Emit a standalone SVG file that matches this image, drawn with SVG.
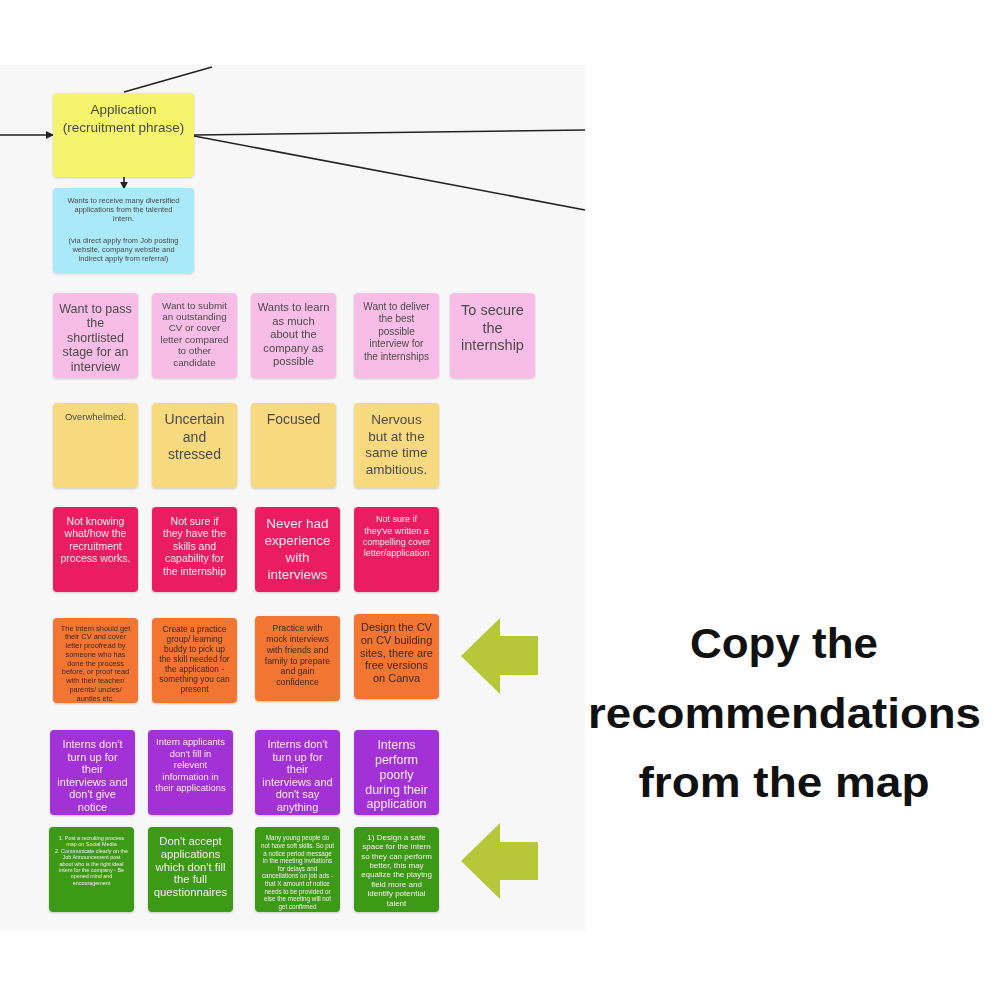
<svg xmlns="http://www.w3.org/2000/svg" width="1000" height="1000" viewBox="0 0 1000 1000">
<defs>
<marker id="ah" viewBox="0 0 10 10" refX="9" refY="5" markerWidth="8" markerHeight="8" orient="auto" markerUnits="userSpaceOnUse">
<path d="M0,0 L10,5 L0,10 z" fill="#222"/>
</marker>
<filter id="sh" x="-10%" y="-10%" width="120%" height="125%">
<feDropShadow dx="0" dy="1" stdDeviation="1" flood-color="#000" flood-opacity="0.18"/>
</filter>
<style>
.n{filter:url(#sh)}
.app{fill:#f6f36c}.blue{fill:#a9e9f9}.pink{fill:#f8bde7}.yel{fill:#f7da80}.red{fill:#ea1d62}.org{fill:#f37433}.pur{fill:#a331d6}.grn{fill:#3e9a17}
text{font-family:"Liberation Sans",Arial,sans-serif;text-anchor:middle}
.d{fill:#4a4a4a}.w{fill:#f6ecf0}
.conn line{stroke:#222;stroke-width:1.6}
.big{font-family:"Liberation Sans",Arial,sans-serif;font-weight:bold;font-size:43px;fill:#111}
</style>
</defs>
<rect width="1000" height="1000" fill="#ffffff"/>
<rect x="0" y="65" width="585" height="866" fill="#f7f7f7"/>

<g class="conn">
<line x1="0" y1="135" x2="53" y2="135" marker-end="url(#ah)"/>
<line x1="124" y1="92" x2="212" y2="67"/>
<line x1="194" y1="135" x2="585" y2="130"/>
<line x1="194" y1="136" x2="585" y2="210"/>
<line x1="124" y1="177" x2="124" y2="189" marker-end="url(#ah)"/>
</g>

<g id="application" class="n"><rect class="app" x="53" y="93" width="141" height="84" rx="4"/>
<text class="d" font-size="13.5"><tspan x="123.5" y="113.5">Application</tspan><tspan x="123.5" y="132">(recruitment phrase)</tspan></text></g>

<g id="goal" class="n"><rect class="blue" x="53" y="188" width="141" height="85" rx="4"/>
<text class="d" font-size="7.5"><tspan x="123.5" y="202.6">Wants to receive many diversified</tspan><tspan x="123.5" y="211.6">applications from the talented</tspan><tspan x="123.5" y="220.6">Intern.</tspan><tspan x="123.5" y="242.6">(via direct apply from Job posting</tspan><tspan x="123.5" y="251.6">website, company website and</tspan><tspan x="123.5" y="260.6">indirect apply from referral)</tspan></text></g>

<g id="pink1" class="n"><rect class="pink" x="53" y="293" width="85" height="85" rx="4"/>
<text class="d" font-size="12.5"><tspan x="95.5" y="312.5">Want to pass</tspan><tspan x="95.5" y="327">the</tspan><tspan x="95.5" y="341.5">shortlisted</tspan><tspan x="95.5" y="356">stage for an</tspan><tspan x="95.5" y="370.5">interview</tspan></text></g>
<g id="pink2" class="n"><rect class="pink" x="152" y="293" width="85" height="85" rx="4"/>
<text class="d" font-size="9.8"><tspan x="194.5" y="308.5">Want to submit</tspan><tspan x="194.5" y="320">an outstanding</tspan><tspan x="194.5" y="331.3">CV or cover</tspan><tspan x="194.5" y="342.7">letter compared</tspan><tspan x="194.5" y="354">to other</tspan><tspan x="194.5" y="365.5">candidate</tspan></text></g>
<g id="pink3" class="n"><rect class="pink" x="251" y="293" width="85" height="85" rx="4"/>
<text class="d" font-size="11.2"><tspan x="293.5" y="311">Wants to learn</tspan><tspan x="293.5" y="324.5">as much</tspan><tspan x="293.5" y="338">about the</tspan><tspan x="293.5" y="351.5">company as</tspan><tspan x="293.5" y="365">possible</tspan></text></g>
<g id="pink4" class="n"><rect class="pink" x="354" y="293" width="85" height="85" rx="4"/>
<text class="d" font-size="10"><tspan x="396.5" y="309.7">Want to deliver</tspan><tspan x="396.5" y="322.2">the best</tspan><tspan x="396.5" y="334.7">possible</tspan><tspan x="396.5" y="347.2">interview for</tspan><tspan x="396.5" y="359.7">the internships</tspan></text></g>
<g id="pink5" class="n"><rect class="pink" x="450" y="293" width="85" height="85" rx="4"/>
<text class="d" font-size="14.5"><tspan x="492.5" y="315">To secure</tspan><tspan x="492.5" y="332.5">the</tspan><tspan x="492.5" y="350">internship</tspan></text></g>

<g id="feel1" class="n"><rect class="yel" x="53" y="403" width="85" height="85" rx="4"/>
<text class="d" font-size="9.5"><tspan x="95.5" y="420.3">Overwhelmed.</tspan></text></g>
<g id="feel2" class="n"><rect class="yel" x="152" y="403" width="85" height="85" rx="4"/>
<text class="d" font-size="14"><tspan x="194.5" y="424">Uncertain</tspan><tspan x="194.5" y="442">and</tspan><tspan x="194.5" y="459">stressed</tspan></text></g>
<g id="feel3" class="n"><rect class="yel" x="251" y="403" width="85" height="85" rx="4"/>
<text class="d" font-size="14"><tspan x="293.5" y="424">Focused</tspan></text></g>
<g id="feel4" class="n"><rect class="yel" x="354" y="403" width="85" height="85" rx="4"/>
<text class="d" font-size="13.5"><tspan x="396.5" y="423.7">Nervous</tspan><tspan x="396.5" y="440.7">but at the</tspan><tspan x="396.5" y="456.7">same time</tspan><tspan x="396.5" y="473.7">ambitious.</tspan></text></g>

<g id="pain1" class="n"><rect class="red" x="53" y="507" width="85" height="85" rx="4"/>
<text class="w" font-size="10.5"><tspan x="95.5" y="524.7">Not knowing</tspan><tspan x="95.5" y="537.2">what/how the</tspan><tspan x="95.5" y="549.7">recruitment</tspan><tspan x="95.5" y="562.2">process works.</tspan></text></g>
<g id="pain2" class="n"><rect class="red" x="152" y="507" width="85" height="85" rx="4"/>
<text class="w" font-size="10.5"><tspan x="194.5" y="524.7">Not sure if</tspan><tspan x="194.5" y="537.2">they have the</tspan><tspan x="194.5" y="549.7">skills and</tspan><tspan x="194.5" y="562.2">capability for</tspan><tspan x="194.5" y="574.7">the internship</tspan></text></g>
<g id="pain3" class="n"><rect class="red" x="255" y="507" width="85" height="85" rx="4"/>
<text class="w" font-size="13.5"><tspan x="297.5" y="527.7">Never had</tspan><tspan x="297.5" y="544.7">experience</tspan><tspan x="297.5" y="561.7">with</tspan><tspan x="297.5" y="578.7">interviews</tspan></text></g>
<g id="pain4" class="n"><rect class="red" x="354" y="507" width="85" height="85" rx="4"/>
<text class="w" font-size="9"><tspan x="396.5" y="522.2">Not sure if</tspan><tspan x="396.5" y="533.5">they've written a</tspan><tspan x="396.5" y="544.8">compelling cover</tspan><tspan x="396.5" y="556.1">letter/application</tspan></text></g>

<g id="idea1" class="n"><rect class="org" x="53" y="618" width="85" height="85" rx="4"/>
<text class="d" font-size="7.4" style="fill:#3a2a20"><tspan x="95.5" y="630.6">The intern should get</tspan><tspan x="95.5" y="639.4">their CV and cover</tspan><tspan x="95.5" y="648.1">letter proofread by</tspan><tspan x="95.5" y="656.9">someone who has</tspan><tspan x="95.5" y="665.6">done the process</tspan><tspan x="95.5" y="674.4">before, or proof read</tspan><tspan x="95.5" y="683.1">with their teacher/</tspan><tspan x="95.5" y="691.9">parents/ uncles/</tspan><tspan x="95.5" y="700.6">aunties etc.</tspan></text></g>
<g id="idea2" class="n"><rect class="org" x="152" y="618" width="85" height="85" rx="4"/>
<text class="d" font-size="8.4" style="fill:#3a2a20"><tspan x="194.5" y="632">Create a practice</tspan><tspan x="194.5" y="642">group/ learning</tspan><tspan x="194.5" y="652">buddy to pick up</tspan><tspan x="194.5" y="662">the skill needed for</tspan><tspan x="194.5" y="672">the application -</tspan><tspan x="194.5" y="682">something you can</tspan><tspan x="194.5" y="692">present</tspan></text></g>
<g id="idea3" class="n"><rect class="org" x="255" y="616" width="85" height="85" rx="4"/>
<text class="d" font-size="8.8" style="fill:#3a2a20"><tspan x="297.5" y="631.2">Practice with</tspan><tspan x="297.5" y="642">mock interviews</tspan><tspan x="297.5" y="652.8">with friends and</tspan><tspan x="297.5" y="663.6">family to prepare</tspan><tspan x="297.5" y="674.4">and gain</tspan><tspan x="297.5" y="685.2">confidence</tspan></text></g>
<g id="idea4" class="n"><rect class="org" x="354" y="614" width="85" height="85" rx="4"/>
<text class="d" font-size="11" style="fill:#3a2a20"><tspan x="396.5" y="630.9">Design the CV</tspan><tspan x="396.5" y="643.7">on CV building</tspan><tspan x="396.5" y="656.5">sites, there are</tspan><tspan x="396.5" y="669.3">free versions</tspan><tspan x="396.5" y="682.1">on Canva</tspan></text></g>

<g id="issue1" class="n"><rect class="pur" x="50" y="730" width="85" height="85" rx="4"/>
<text class="w" font-size="11"><tspan x="92.5" y="747.9">Interns don't</tspan><tspan x="92.5" y="760.5">turn up for</tspan><tspan x="92.5" y="773.1">their</tspan><tspan x="92.5" y="785.7">interviews and</tspan><tspan x="92.5" y="798.3">don't give</tspan><tspan x="92.5" y="810.9">notice</tspan></text></g>
<g id="issue2" class="n"><rect class="pur" x="148" y="730" width="85" height="85" rx="4"/>
<text class="w" font-size="9.4"><tspan x="190.5" y="745.3">Intern applicants</tspan><tspan x="190.5" y="756.8">don't fill in</tspan><tspan x="190.5" y="768.3">relevent</tspan><tspan x="190.5" y="779.8">information in</tspan><tspan x="190.5" y="791.3">their applications</tspan></text></g>
<g id="issue3" class="n"><rect class="pur" x="255" y="730" width="85" height="85" rx="4"/>
<text class="w" font-size="11"><tspan x="297.5" y="747.9">Interns don't</tspan><tspan x="297.5" y="760.5">turn up for</tspan><tspan x="297.5" y="773.1">their</tspan><tspan x="297.5" y="785.7">interviews and</tspan><tspan x="297.5" y="798.3">don't say</tspan><tspan x="297.5" y="810.9">anything</tspan></text></g>
<g id="issue4" class="n"><rect class="pur" x="354" y="730" width="85" height="85" rx="4"/>
<text class="w" font-size="12.5"><tspan x="396.5" y="749.4">Interns</tspan><tspan x="396.5" y="764.1">perform</tspan><tspan x="396.5" y="778.8">poorly</tspan><tspan x="396.5" y="793.5">during their</tspan><tspan x="396.5" y="808.2">application</tspan></text></g>

<g id="rec1" class="n"><rect class="grn" x="49" y="827" width="85" height="85" rx="4"/>
<text class="w" font-size="5.4"><tspan x="91.5" y="840">1. Post a recruiting process</tspan><tspan x="91.5" y="846.4">map on Social Media</tspan><tspan x="91.5" y="852.8">2. Communicate clearly on the</tspan><tspan x="91.5" y="859.2">Job Announcement post</tspan><tspan x="91.5" y="865.6">about who is the right ideal</tspan><tspan x="91.5" y="872">intern for the company - Be</tspan><tspan x="91.5" y="878.4">opened mind and</tspan><tspan x="91.5" y="884.8">encouragement</tspan></text></g>
<g id="rec2" class="n"><rect class="grn" x="148" y="827" width="85" height="85" rx="4"/>
<text class="w" font-size="11.3"><tspan x="190.5" y="845">Don't accept</tspan><tspan x="190.5" y="857.8">applications</tspan><tspan x="190.5" y="870.6">which don't fill</tspan><tspan x="190.5" y="883.4">the full</tspan><tspan x="190.5" y="896.2">questionnaires</tspan></text></g>
<g id="rec3" class="n"><rect class="grn" x="255" y="827" width="85" height="85" rx="4"/>
<text class="w" font-size="6.3"><tspan x="297.5" y="840.3">Many young people do</tspan><tspan x="297.5" y="847.9">not have soft skills. So put</tspan><tspan x="297.5" y="855.5">a notice period message</tspan><tspan x="297.5" y="863.1">in the meeting invitations</tspan><tspan x="297.5" y="870.7">for delays and</tspan><tspan x="297.5" y="878.3">cancellations on job ads -</tspan><tspan x="297.5" y="885.9">that X amount of notice</tspan><tspan x="297.5" y="893.5">needs to be provided or</tspan><tspan x="297.5" y="901.1">else the meeting will not</tspan><tspan x="297.5" y="908.7">get confirmed</tspan></text></g>
<g id="rec4" class="n"><rect class="grn" x="354" y="827" width="85" height="85" rx="4"/>
<text class="w" font-size="8"><tspan x="396.5" y="839.8">1) Design a safe</tspan><tspan x="396.5" y="849.2">space for the intern</tspan><tspan x="396.5" y="858.6">so they can perform</tspan><tspan x="396.5" y="868">better, this may</tspan><tspan x="396.5" y="877.4">equalize the playing</tspan><tspan x="396.5" y="886.8">field more and</tspan><tspan x="396.5" y="896.2">identify potential</tspan><tspan x="396.5" y="905.6">talent</tspan></text></g>

<g id="pointer1"><polygon points="461,656 500,618 500,636 538,636 538,675 500,675 500,694" fill="#b6c83a"/></g>
<g id="pointer2"><polygon points="461,861 500,823 500,842 538,842 538,880 500,880 500,899" fill="#b6c83a"/></g>

<g id="caption">
<text class="big" x="784" y="658" textLength="188" lengthAdjust="spacingAndGlyphs">Copy the</text>
<text class="big" x="784.5" y="728" textLength="393" lengthAdjust="spacingAndGlyphs">recommendations</text>
<text class="big" x="784" y="797" textLength="291" lengthAdjust="spacingAndGlyphs">from the map</text>
</g>
</svg>
